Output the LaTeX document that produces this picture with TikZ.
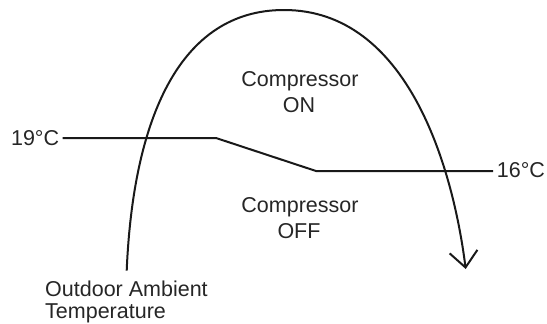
\documentclass[tikz,border=0pt]{standalone}
\usepackage{fontspec}
\setmainfont{Liberation Sans}
\usetikzlibrary{arrows.meta}
\begin{document}
\begin{tikzpicture}[x=1pt,y=-1pt,
  lbl/.style={inner sep=0pt, text=black!85, font=\fontsize{21.5}{26}\selectfont},
  ln/.style={line width=2pt, draw=black!90, line join=round}]
\useasboundingbox (0,0) rectangle (547,324);
% labels
\node[lbl, anchor=base east] (t19) at (59.3,145) {19°C};
\node[lbl, anchor=base west] (t16) at (496.7,177.3) {16°C};
\node[lbl, anchor=base] (on1) at (300,86) {Compressor};
\node[lbl, anchor=base] (on2) at (299,112.3) {ON};
\node[lbl, anchor=base] (off1) at (300,212.7) {Compressor};
\node[lbl, anchor=base] (off2) at (299,238.3) {OFF};
\node[lbl, anchor=base west] (oat1) at (45,296.7) {Outdoor Ambient};
\node[lbl, anchor=base west] (oat2) at (45,318.3) {Temperature};
% threshold line
\coordinate (c1) at (216,138);
\coordinate (c2) at (316,171);
\draw[ln] ([xshift=3.4pt]t19.east |- c1) -- (c1) -- (c2) -- ([xshift=-3.7pt]t16.west |- c2);
% curve
\coordinate (s) at (126.7,270.7);
\coordinate (top) at (284,10);
\coordinate (e) at (465.7,269);
\draw[ln, -{Straight Barb[length=16pt,width=28pt]}]
  (s) .. controls (133,120) and (179,10) .. (top)
      .. controls (408,10) and (453,168) .. (e);
\end{tikzpicture}
\end{document}
